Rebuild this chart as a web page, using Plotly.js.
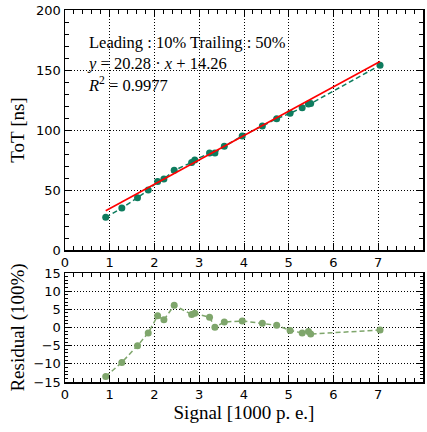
<!DOCTYPE html>
<html><head><meta charset="utf-8">
<script src="https://cdn.plot.ly/plotly-3.0.1.min.js"></script>
<style>html,body{margin:0;padding:0;background:#fff}</style>
</head><body><div id="chart" style="width:427px;height:432px"></div>
<script>
const signal = [0.91, 1.27, 1.62, 1.86, 2.07, 2.21, 2.44, 2.83, 2.90, 3.23, 3.35, 3.56, 3.96, 4.41, 4.73, 5.03, 5.30, 5.44, 5.49, 7.04];
const tot = [27.2, 35.0, 43.6, 50.0, 57.0, 59.2, 66.4, 73.0, 75.0, 80.8, 80.8, 86.4, 95.0, 103.3, 109.4, 113.9, 118.6, 121.7, 122.0, 154.0];
const residual = [-13.5, -9.6, -5.0, -1.5, 3.2, 2.1, 6.1, 3.6, 3.9, 2.8, 0.1, 1.5, 1.8, 1.2, 0.6, -0.8, -1.5, -1.1, -1.8, -0.7];
const fitSlope = 20.28;
const fitIntercept = 14.26;
const fitRange = [0.91, 7.04];
const annLines = [
  'Leading : 10% Trailing : 50%',
  '<i>y</i> = 20.28 · <i>x</i> + 14.26',
  '<i>R</i><sup>2</sup> = 0.9977'
];

const topColor = '#0e7c5e';
const resColor = '#7fa66c';
const serif = 'Liberation Serif, serif';
const sans = 'DejaVu Sans, sans-serif';

const traces = [
  {x: signal, y: tot, xaxis: 'x', yaxis: 'y', mode: 'lines+markers', type: 'scatter',
   line: {color: topColor, dash: '5px,3px', width: 1.5}, marker: {color: topColor, size: 7}},
  {x: fitRange, y: fitRange.map(v => fitSlope * v + fitIntercept), xaxis: 'x', yaxis: 'y',
   mode: 'lines', type: 'scatter', line: {color: '#ff0000', width: 1.6}},
  {x: signal, y: residual, xaxis: 'x2', yaxis: 'y2', mode: 'lines+markers', type: 'scatter',
   line: {color: resColor, dash: '5px,3px', width: 1.5}, marker: {color: resColor, size: 7}}
];

const axCommon = {
  showline: true, linecolor: 'black', linewidth: 1.5, mirror: 'allticks',
  ticks: 'inside', ticklen: 7, tickwidth: 1, tickcolor: 'black',
  showgrid: true, gridcolor: 'black', gridwidth: 1, griddash: '1px,2px',
  zeroline: false, tickfont: {family: sans, size: 13, color: 'black'}
};

const layout = {
  width: 427, height: 432, showlegend: false,
  margin: {l: 65, r: 4, t: 10, b: 50},
  paper_bgcolor: 'white', plot_bgcolor: 'white',
  xaxis: Object.assign({}, axCommon, {domain: [0, 1], anchor: 'y', range: [0, 8], dtick: 1,
    minor: {dtick: 0.2, ticklen: 4, tickcolor: 'black', ticks: 'inside', showgrid: false}}),
  yaxis: Object.assign({}, axCommon, {domain: [0.3548, 1], anchor: 'x', range: [0, 200], dtick: 50,
    minor: {dtick: 10, ticklen: 4, tickcolor: 'black', ticks: 'inside', showgrid: false},
    title: {text: 'ToT [ns]', font: {family: serif, size: 19, color: 'black'}, standoff: 6}}),
  xaxis2: Object.assign({}, axCommon, {domain: [0, 1], anchor: 'y2', range: [0, 8], dtick: 1,
    minor: {dtick: 0.2, ticklen: 4, tickcolor: 'black', ticks: 'inside', showgrid: false},
    title: {text: 'Signal [1000 p. e.]', font: {family: serif, size: 19, color: 'black'}, standoff: 4}}),
  yaxis2: Object.assign({}, axCommon, {domain: [0, 0.293], anchor: 'x2', range: [-15, 15], dtick: 5,
    tickvals: [-15, -10, -5, 0, 5, 10, 15], ticktext: ['\u221215', '\u221210', '\u22125', '0', '5', '10', '15'],
    minor: {dtick: 1, ticklen: 3, tickcolor: 'black', ticks: 'inside', showgrid: false},
    title: {text: 'Residual (100%)', font: {family: serif, size: 19, color: 'black'}, standoff: 4}}),
  annotations: [{
    text: annLines.join('<br>'), xref: 'x', yref: 'y', x: 0.44, y: 155,
    xanchor: 'left', yanchor: 'middle', align: 'left', showarrow: false,
    font: {family: serif, size: 16.5, color: 'black'}
  }]
};

Plotly.newPlot('chart', traces, layout, {displayModeBar: false, staticPlot: true});
</script>
</body></html>
